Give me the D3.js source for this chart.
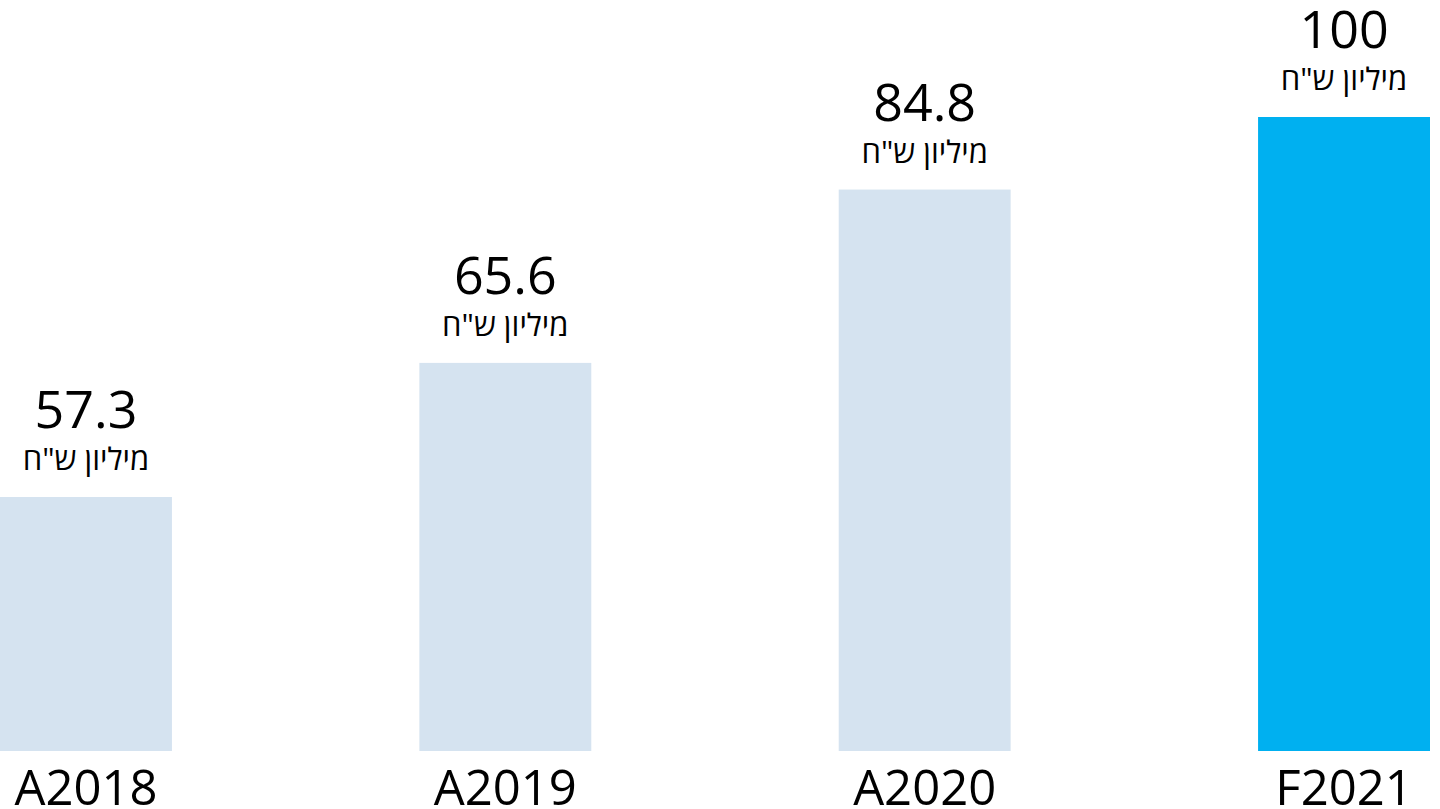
<!DOCTYPE html>
<html lang="he">
<head>
<meta charset="UTF-8">
<title>bars</title>
<script src="https://cdn.jsdelivr.net/npm/d3@7"></script>
<style>
    html, body { margin: 0; padding: 0; background: #fff; overflow: hidden; }
    svg { display: block; font-family: "Open Sans", "DejaVu Sans", sans-serif; }
</style>
</head>
<body>
<div id="chart"></div>
<script>
    // data
    var categories = ['A2018', 'A2019', 'A2020', 'F2021'];
    var values = [57.3, 65.6, 84.8, 100];
    var unitLabel = 'מיליון ש"ח';
    var barColors = ['#D5E3F0', '#D5E3F0', '#D5E3F0', '#00B0F0'];

    var width = 1440, height = 809;
    var baseline = 751;

    var svg = d3.select('#chart').append('svg')
        .attr('width', width)
        .attr('height', height);

    var x = d3.scaleBand()
        .domain(categories)
        .range([0, 1430])
        .paddingInner(0.59)
        .paddingOuter(0);

    // bar tops in the original are not proportional; a pow scale follows them closest
    var y = d3.scalePow()
        .exponent(-2)
        .domain([d3.min(values), d3.max(values)])
        .range([497, 117]);

    var g = svg.selectAll('.bar')
        .data(values)
        .enter().append('g')
        .attr('class', 'bar');

    g.append('rect')
        .attr('x', function (d, i) { return x(categories[i]); })
        .attr('y', function (d) { return y(d); })
        .attr('width', x.bandwidth())
        .attr('height', function (d) { return baseline - y(d); })
        .attr('fill', function (d, i) { return barColors[i]; });

    // value
    g.append('text')
        .attr('x', function (d, i) { return x(categories[i]) + x.bandwidth() / 2; })
        .attr('y', function (d) { return y(d) - 69; })
        .attr('text-anchor', 'middle')
        .attr('font-size', 52)
        .attr('fill', '#000')
        .text(function (d) { return d; });

    // unit
    g.append('text')
        .attr('x', function (d, i) { return x(categories[i]) + x.bandwidth() / 2; })
        .attr('y', function (d) { return y(d) - 27; })
        .attr('text-anchor', 'middle')
        .attr('direction', 'rtl')
        .attr('font-size', 31)
        .attr('fill', '#000')
        .text(unitLabel);

    // category labels
    svg.selectAll('.cat')
        .data(categories)
        .enter().append('text')
        .attr('class', 'cat')
        .attr('x', function (d) { return x(d) + x.bandwidth() / 2; })
        .attr('y', 805)
        .attr('text-anchor', 'middle')
        .attr('font-size', 49)
        .attr('fill', '#000')
        .text(function (d) { return d; });
</script>
</body>
</html>
